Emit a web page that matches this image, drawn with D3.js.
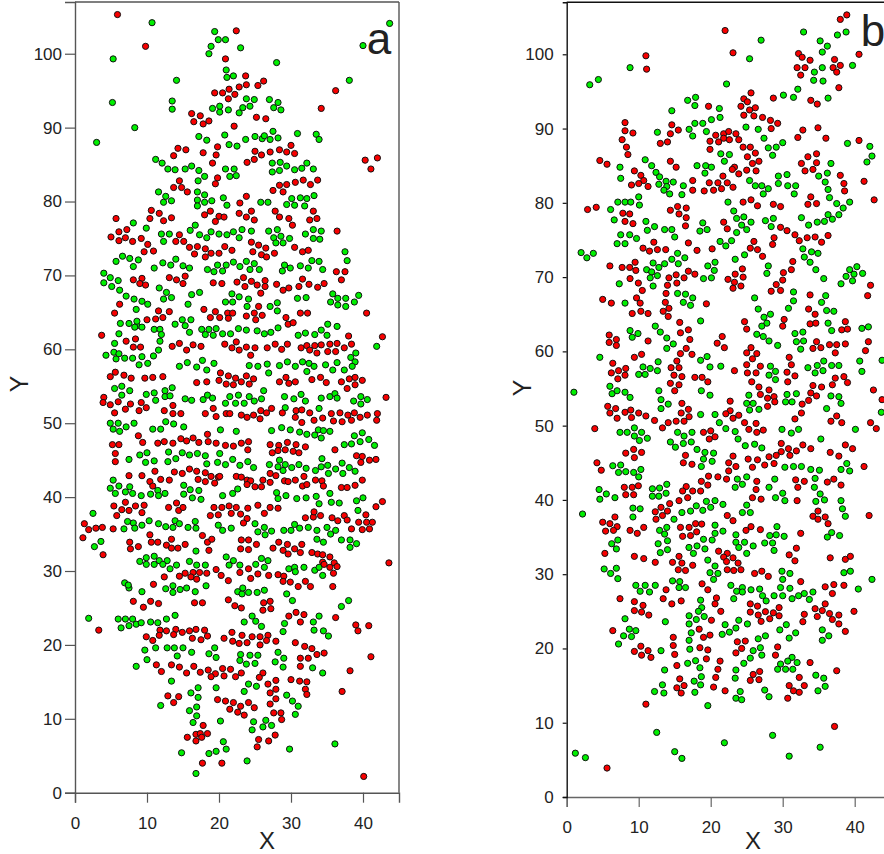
<!DOCTYPE html>
<html>
<head>
<meta charset="utf-8">
<script src="https://cdn.jsdelivr.net/npm/d3@7"></script>
<style>
html, body { margin: 0; padding: 0; background: #fff; overflow: hidden; }
svg { display: block; }
text { font-family: "Liberation Sans", Arial, sans-serif; fill: #222; }
</style>
</head>
<body>
<svg id="chart" width="884" height="854"></svg>
<script>
const xTicks = [0, 10, 20, 30, 40];
const yTicks = [0, 10, 20, 30, 40, 50, 60, 70, 80, 90, 100];

// panel a as [x, y]
const aRed = [
[5.9,105.3],[9.8,101],[22.4,103.1],[20.9,99.3],[23.7,97],[26.2,96.3],[23.8,95.8],[22.8,95.5],[25.4,95.7],[21.4,95.2],[19.4,94.7],[20.5,94.7],[22.2,94.5],[21.3,93.9],[36.2,95],[34.2,92.6],
[16.2,91.9],[17.4,91.6],[16.5,90.8],[17.8,90.5],[18.6,90.9],[25.2,91.4],[26.5,91.2],[22.1,90.2],[19.8,87.4],[14.3,87.2],[15.4,87],[13.7,86.2],[17.8,86.6],[19.6,86.3],[19.1,85.2],[25,86.8],[25.9,86.3],[24.9,85.7],[23.9,85.3],[27.1,86.7],[28.4,87],[29.4,86.7],[30,87.6],[30.5,86.5],
[40.3,85.6],[42,85.9],[41.1,84.4],[19.8,83.2],[19.5,82.4],[14.5,82.8],[13.7,81.9],[14.8,81.9],[15.6,81.3],[31.7,82.9],[33.7,82.9],[32.7,82.3],[30.6,82.6],[29.4,82.3],[28.4,82.2],[27.5,81.5],[28.9,81.3],[23.8,80.7],[22.9,79.8],
[5.7,77.7],[10.6,78.8],[11.7,78.4],[10.4,77.7],[12.3,77.4],[13.4,77.8],[18,78.2],[18.8,78.7],[20,78],[20.7,77.9],[19.5,77.3],[22.8,78.4],[23.8,77.9],[24.5,78.7],[24.9,77.5],[27.8,78.7],[28.4,77.9],[29.7,77.7],[30.2,76.8],[33.1,78.7],[32.6,77.5],[33.6,77.7],
[5,75.2],[6.1,75.9],[7.2,76.2],[6.1,74.7],[7,75.1],[8,74.6],[9.2,75],[10.1,74.2],[9.6,73.2],[10.9,73.3],[36.4,76],[14.5,75.5],[14,74.6],[15.1,74.6],[15.9,73.8],[17,73.9],[16.6,72.9],[18.1,73.6],[18.1,72.5],[18.9,73],[20,73],[20.8,73.9],[21.8,73.4],[24.5,74.5],[25.5,74.1],[26.5,73.7],[24.7,73.2],[25.9,72.8],[26.6,72.5],[27.7,73],[30.5,73.8],[31.6,73.2],[32.4,73.4],
[36.3,70.5],[37.5,70.5],[37,69.4],[8.1,69.4],[9.3,69.6],[9,68.9],[9.8,68.7],[13.1,69.7],[14.1,69.4],[15.3,69.9],[15,68.9],[19.2,69],[20.4,68.9],[22.5,69.1],[23.4,69.7],[24.5,69.2],[23.6,68.5],[25.3,68.7],[26.4,69.3],[26.4,68.5],[28,68.8],[28.9,68],[29.7,68.3],[31.1,68.5],[31.6,69.5],[32.5,68.8],[33.7,68.4],[34.6,68.9],[25.8,67.6],
[6.2,66.1],[5.5,64.9],[17.9,65.4],[11.6,65.2],[13.1,65.1],[10,64],[11.2,64.1],[12.2,64.3],[18.8,64.3],[19.5,65.1],[20.1,64.3],[21.2,64.9],[21.9,64.9],[21.3,64.2],[23.8,64.5],[24.9,64.9],[25.1,64],[26,64.6],[25.5,65.8],[29.3,64.3],[29.6,63.4],[30.3,63.6],[31.3,64.9],[32.3,64.9],[40.5,64.9],
[3.7,61.9],[8.4,61.4],[7.1,61.1],[8.1,60.3],[9.1,60.3],[13.5,60.4],[14.5,60.8],[15.5,59.9],[16.4,60.6],[17.5,60.4],[20.8,60.7],[22.4,61],[21.8,60.2],[22.8,59.9],[23.8,60.3],[25,60.2],[24.4,59.2],[26.7,60.2],[27.8,60.7],[28.7,60],[29.5,60.7],[31.4,60.2],[32.2,60.5],[32.6,59.9],[33.3,60.5],[34.2,60.6],[33.6,59.5],[35.1,59.7],[35.4,60.7],[36.4,60.8],[36.2,59.7],[37.4,60.2],[38.4,60.7],[38,61.8],[42.7,61.7],
[4.9,56.3],[5.6,56.9],[6.8,56.5],[7.8,56.1],[9.7,56.1],[10.8,56.2],[12.2,56.3],[16.9,55.5],[18.3,55.6],[20.2,56.8],[20,55.8],[21.3,56.4],[21,55.3],[22.3,56.1],[22,55.2],[23.1,55.6],[23.8,56.4],[24.2,55.3],[24.8,56],[28.4,55.6],[29.3,56.2],[29.7,55.4],[30.6,55.6],[32.9,55.9],[34.1,56.2],[34.9,55.5],[37,55.6],[38.1,56],[38.9,56.2],[38.9,55.2],[37.8,54.7],[39.9,55.8],[43.2,53.5],[4,53.5],
[3.9,52.8],[4.9,52.5],[6,52.9],[5.5,51.4],[7,51.9],[7.7,52.6],[9.2,52.8],[8.9,51.7],[9.9,52.1],[12.4,51.7],[13.6,52.4],[13.6,51.3],[14.7,51.3],[18.1,51.3],[19.2,52],[19.6,50.9],[21,51.3],[21.5,51.3],[23.1,51.1],[23.9,50.8],[24.8,51.1],[25.8,51.7],[25.7,50.6],[26.6,51.4],[27.3,52],[28.8,51.4],[30.7,51.7],[30.6,50.8],[31.5,51.8],[31.5,50.1],[32.6,51.4],[33.2,50.4],[34.4,50.7],[35.6,51.3],[35.9,50.3],[36.8,51.4],[37.1,50.2],[37.9,51.1],[38.4,50.4],[38.8,51.4],[39.6,50.8],[40.6,51.1],[41.9,50.4],[42,51.3],
[8.8,48.3],[9.4,47.4],[11.5,47.3],[12.4,47.5],[13.6,47.3],[14.7,47.9],[15.5,47.6],[16.4,48],[17.2,47.4],[18.5,47.5],[19.6,47.3],[18.4,48.5],[20.9,47],[22,46.9],[23.1,47.3],[24.1,47.5],[24,46.4],[27.1,47.1],[28.3,47],[29.5,47.4],[30.7,47.1],[27.4,46],[28.2,46.3],[29.2,46.4],[30.3,46.2],[31.1,46],[32,46.8],
[5.2,47.1],[6.1,47.1],[5.6,45.9],[5.6,44.8],[36.1,46.4],[39.1,45.6],[39.9,45.5],[39.7,44.7],[40.9,45],[41.8,45.1],
[7.5,42.9],[9.3,42.9],[10.4,42.1],[10.8,41.5],[11.1,43.5],[11.9,42.4],[13.1,42.3],[13.8,43.4],[14.9,43.2],[15.9,43.8],[16.9,43.5],[17.1,42.4],[18.1,43.3],[18.1,42.1],[19.4,41.9],[18.9,42.8],[19.9,42.7],[20.1,42.8],[22.4,42.8],[23.1,42.7],[23.9,42.3],[24.4,42.2],[23.9,41.7],[25,41.4],[26.1,42.3],[25.9,41.4],[27.1,43.2],[27.9,42.9],[27.1,42],[29.1,42.2],[29.6,42.1],[30.6,42.3],[31.6,41.5],[31.8,42.8],[32.2,41.7],[33.4,42.3],[34.3,42.2],[34.5,41.5],[37,41.3],[37.8,41.3],[38.9,41.6],[39.9,42.3],
[5.4,38.8],[7,39.3],[6.5,38.3],[5.8,37.5],[7.5,38.2],[8.4,38.8],[9.3,37.9],[9.6,38.9],[13,38.6],[14.1,39.2],[14.4,38.2],[15,38.6],[19.3,38.6],[20.4,38.6],[21.4,38.8],[22.4,38.6],[24,38.5],[18.8,37.5],[19.9,37.6],[21.7,37.8],[23,37.7],[23.9,37.1],[23.4,36.5],[25.4,38.9],[26.3,37.8],[27.1,38.6],[28.2,38.5],[32,37.2],[33.1,37.3],[33.2,38],[34.1,37.5],[35.7,37.2],[36.5,36.8],[37.4,37.5],[37.8,36.9],[38.4,35.7],[39.4,36.6],[39.9,35.6],[40.5,36.6],[40.4,37.6],[41.3,36.6],[40.9,35.7],[41.8,38.7],[42.7,39.4],
[1.3,36.4],[1.9,35.6],[2.9,35.8],[3.8,35.9],[5.3,35.7],[1.1,34.5],[10.4,34.9],[7.6,33.9],[7.7,33],[3.9,32.2],[8.8,33.3],[10.6,33.9],[11.5,33.9],[12.7,33.5],[13.4,34.3],[13.4,33.1],[14.3,33.1],[15.3,33.6],[17.7,34.8],[18.4,33.9],[19,34.3],[18.6,32.8],[23.1,34.2],[24.1,34.2],[23,33],[24.1,32.9],[25.2,33.6],[27.5,33.1],[28.3,33.9],[28.9,32.8],[29.5,33.6],[30.5,33],[31.5,33.6],[29.6,32.3],[31.3,32.5],[32.9,32.5],[33.7,32.3],[34.4,32.2],[34.4,31.2],[35.4,31.9],[34.6,30.9],[36,31.1],[35.4,30.5],[36.4,30.6],[35.9,29.7],[43.6,31.1],
[15.3,29.7],[14.5,29.3],[12.4,29.2],[16.4,29.8],[16.1,29.2],[17.3,29.8],[16.9,28.9],[18.3,29.7],[19.6,30.2],[20.3,29.4],[21.3,28.7],[22.9,29.8],[24.1,30.3],[24.4,29],[25.4,29.6],[26.9,29.4],[28.2,29.5],[29,29.3],[28.9,28.6],[29.9,28.5],[31,27.9],[32,28.6],[32.7,27.9],[35.8,27.9],[10.9,28.2],
[8.1,25.9],[9.5,25.1],[10.5,25.9],[11.6,25.6],[16.6,25.7],[17.7,25.7],[21.3,26.1],[22.2,25.3],[23.1,25],[26.2,25.7],[27.1,25.9],[26.1,24.7],[27.2,24.9],
[29.7,23.9],[30.7,24.4],[31.3,23.1],[31.8,24.1],[36.2,23.7],[39,22.7],[40.8,22.6],[39.3,21.9],[14,22.1],[3.3,22],[11.8,22],[14.9,21.7],[15.9,21.9],[16.8,22.1],[18,22],[12.7,21.9],[11.7,21.3],[9.9,21.1],[10.8,20.6],[13.7,21.4],[16.3,20.9],[17.5,20.7],[18.4,21.2],[20.7,20.9],[21.8,21.7],[23.2,21.3],[21.9,20.5],[22.8,20.2],[23.9,20.3],[24.6,21.1],[25.7,21.1],[26.8,21.3],[26.6,20.6],[27.9,20.5],[25.7,20],
[30.6,20.3],[31.9,19.8],[32.9,19.5],[33.6,18.7],[34.6,18.9],[41.1,18.4],[31.3,18.2],[32.4,18.2],[11.3,17.3],[13.4,17.3],[14.5,17],[16.5,17.1],[31.3,17.1],[15.5,16.2],[12,16.4],[17.4,16.3],[18.5,16.6],[19.5,16.1],[18.9,15.7],[20.5,16.8],[20.7,15.8],[21.6,16.7],[22.3,15.7],[23.1,16.2],[26.1,16.2],[25.6,15.6],[38.2,16.5],
[27.9,15.2],[30,15.3],[31.2,15.1],[32.2,15],[26.8,14.7],[27.9,14],[32,14],[27.1,13.5],[32.2,13.3],[37.1,13.7],[12.9,13.1],[14.4,13],[27.9,12.7],[13.7,12.2],[19.8,12.6],[20.9,12.4],[22,12.2],[24.1,12.2],[23,11.7],[27.1,12],[24.9,11.5],[21.5,11.3],[22.6,10.9],[23.5,10.5],[27.6,10.8],[28.6,10.8],[28.7,9.9],
[17.8,9.1],[15.6,7.5],[16.8,7.9],[17.4,8],[17.6,7.5],[18.4,8],[16.8,7],[27.8,7.8],[25.5,7.2],[26.9,7],[25.3,6.2],[17.7,4],[20.4,4],[40.1,2.2]
];
const aGreen = [
[10.7,104.2],[43.7,104.1],[19.4,103],[19.9,101.9],[20.9,101.9],[18.9,101],[23,100.8],[18.6,100],[40,101.1],[5.3,99.3],[28,98.8],[21,97.8],[21.1,96.8],[22,97],[14.1,96.4],[38.1,96.4],
[5.2,93.4],[13.5,93.6],[13.5,92.5],[19.1,92.6],[20.1,92.1],[20.1,92.9],[21.3,92.4],[22.8,92],[23.3,92.7],[23.8,93.9],[24.3,92.9],[24.9,93.8],[27,93.8],[28.2,93.4],[27.6,92.7],[28.6,92.4],
[8.3,90],[3,88],[17.2,88.8],[18.3,88.3],[20.8,89],[21.4,87.7],[22.5,87.5],[23.7,88.4],[25,88.8],[26,88.5],[26.3,88.9],[27.1,88.4],[27.5,89.5],[28.2,88.6],[30.9,89.2],[33.5,89.1],[33.9,88.4],
[11.2,85.7],[12.1,85.2],[12.9,84.4],[13.9,84.3],[15.3,84.4],[16.2,84.8],[17.2,84.2],[18,83.4],[17.1,82.8],[20.9,84.4],[21.5,83.4],[22.1,84.4],[22.4,83.5],[27.4,85.2],[28.5,85.3],[29.4,84.8],[30.5,84.3],[31.5,84.5],[32.2,85.2],[33.1,84.4],[27.4,84],[28.4,84.2],
[11.6,81.3],[12.6,80.7],[12.3,79.9],[13.4,80.1],[17,81.3],[18,80.9],[17,80.2],[18,79.9],[19,80.1],[20.6,80.5],[21.1,79.5],[17,79.4],[25.8,79.9],[26.8,79.9],[29.4,79.6],[30.1,80.4],[30.5,79.5],[31.3,80.5],[32.2,80.4],[33.2,80.8],[31.9,79.4],
[8.1,77.1],[9.9,76.4],[16.7,76.8],[16,76.1],[17.3,75.5],[18.3,75.1],[18.9,75.9],[20,75.6],[21.1,75.5],[22,75.9],[22.8,75.1],[23.2,76.2],[24.5,76],[26.9,76],[28.1,76.2],[27.6,75.1],[28.6,75.3],[29.8,75],[27.9,74.4],[28.9,74.4],[12,75.6],[13.1,75.6],[12.3,74.6],[32,75.6],[33.1,76.2],[34.2,76],[33.1,75],[34,74.9],
[5.7,71.9],[6.6,72.6],[7.6,72.3],[8.1,71.2],[8.8,72.1],[11,71],[12.2,71.7],[13.3,71.4],[14,72.2],[15,71.3],[15.9,71],[18.4,70.8],[19.3,70.5],[19.8,71.4],[20.5,70.6],[21,71.4],[22,71.8],[22.9,71.2],[23.8,71.9],[24.3,70.8],[24.9,71.6],[25.6,70.8],[29.1,71.4],[28.8,70.6],[29.9,71],[31.3,71.3],[32.4,71],[32.9,72],[33.9,71.9],[34.4,70.8],[37.5,73.2],[37.8,72],
[4,70.3],[4.9,69.7],[6,69.3],[4,69],[5.1,68.5],[6.2,68],[7.1,67.2],[8.2,66.8],[9.3,66.5],[10.1,66.1],[8.5,65.4],[11.7,68.3],[12.7,67.7],[12.3,66.8],[13.4,67],[16.2,67.4],[17.3,67.7],[15.7,66.1],
[21.8,67.5],[20.9,66.4],[21.9,66.4],[22.8,67.1],[24.1,66.8],[23.9,65.8],[27.1,65.8],[28.1,66.3],[28.1,65.2],[30.9,66.9],[32.1,67],
[35.8,67.5],[36.5,66.9],[36.5,66],[35.5,66.4],[37.6,66.9],[37.6,65.8],[38.8,66.4],[39.4,67.3],
[6.3,63.5],[7.5,63.5],[8.6,63.2],[8.3,63],[9.3,63],[8.6,63.8],[6.1,62.1],[5.5,60.8],[11,62.7],[11.8,62.7],[12,62],[11.8,61.1],[13.9,63.4],[14.9,64],[15.3,63.2],[16.1,64],[15.9,62.3],[17.6,62.7],[18.1,62],[18.6,62.7],[19.2,61.9],[19.6,62.8],[20.5,62.1],[21.6,62.1],[22.7,62.8],[23.8,62.6],[25.3,62.5],[26.3,62.1],[27.2,62.3],[28.2,62.9],[31,61.9],[32,62.2],[33.3,62],[34.2,62.6],[35,61.9],[35.1,63.4],[36.4,63.1],
[11.6,59.9],[5.4,59.6],[4.3,59.2],[5.7,58.7],[6.1,59.4],[6.9,58.8],[8,58.8],[8.9,57.9],[9.3,59],[10.1,58.1],[10.9,59.1],[39,59.5],[41.9,60.4],[38.9,58.3],[38.5,57.7],[38.3,58.9],
[14.5,57.7],[15.6,58.2],[16.9,57.6],[17.7,58.5],[18.3,57.2],[19.3,58.1],[24.2,57.8],[25.4,57.7],[26.7,58],[26.9,56.8],[28.4,57.8],[29.5,58.3],[30.6,57.7],[31.6,58.3],[32.2,57],[32.5,58.1],[33.2,57.7],[34.8,57.9],[35.8,57.2],[36.4,58.2],[37.4,57.2],
[5.5,54.7],[6.5,55],[6.5,53.8],[7.6,54.4],[9.9,53.9],[11,54.1],[12.5,54.4],[13.5,54.8],[12.5,53.6],[13.2,53.7],[11.2,53.1],[15.3,53.3],[16.2,53.1],[17.8,53.2],[18.4,53.8],[19.1,53.4],[20.9,52.7],[21.5,53.6],[22.3,52.7],[22.7,53.8],[23.5,52.7],[24.2,53.6],[24.9,53],[25.9,53.3],[26.2,54.4],[29.1,53.6],[29.2,52.1],[30.4,53.3],[31.4,53.9],[32,53],[33.9,52],[34.2,53.4],[35.4,53.6],[36.1,54],[36.4,53.4],[38.7,53],[39.7,52.6],[39.7,53.6],[40.6,53.2],
[4.9,50],[5.3,49.2],[6,50],[6.2,48.9],[7.1,49.5],[8.2,50],[10.8,49.2],[11.9,49.2],[12.6,50.2],[13.7,49.9],[15.1,49.5],[20.2,49.1],[22.4,48.9],[27.3,49],[28.7,49.4],[29.9,49.1],[31.2,48.8],[32.2,48.5],[33.3,48.4],[33.8,49.1],[34.5,49],[34.2,48],[35.4,48.9],[38.8,48.3],[39.9,48.7],[39.6,47.5],[40.8,47.8],[41.6,47],[37.4,47.1],[38.4,47.2],
[9,45.7],[10,46],[7.5,45.1],[9.8,44.7],[11,44.9],[13,46.1],[12.9,44.8],[14,45.2],[14.9,46],[15.9,45.7],[17,45.9],[18.1,45.6],[18.3,44.5],[19.8,44.7],[20.1,45.9],[20.9,44.4],[21.9,45.1],[22.9,44.3],[24,44.8],[24.8,44],[27,44.4],[28.2,44.1],[28.4,45],[29.2,44.4],[28.9,43.6],[30.1,44],[31.1,44.4],[32.1,43.9],[33.4,43.6],[34.2,44.1],[34.3,45.2],[35.1,44.3],[35.2,43.2],[36.2,43.8],[37.1,44.6],[37.2,43.2],[38.1,44],[38.9,43.5],
[5.3,42.3],[4.9,41.2],[6.1,41.5],[7.6,41.4],[7,40.7],[8,40.5],[5.6,40.5],[9.2,40.2],[10.5,40.4],[11.5,40.9],[11.6,40.2],[12.5,40.5],[15.1,41.6],[15.1,40.4],[16,41],[16.3,39.9],[17.2,40.9],[17.5,39.7],[20.5,40.2],[21.9,40.5],[22.6,41.1],[28,40.6],[28.2,39.8],[29.3,40.2],[30.8,39.8],[32.1,39.9],[33.5,40.1],[33.9,39.1],[35.4,40.5],[35.6,39.3],[36.7,39.2],[39.1,39.5],[40,39.9],[39.3,38.2],
[2.5,37.8],[7.3,36.7],[8.1,36.5],[6.8,35.7],[8.3,35.8],[9.3,36.2],[10.3,36.8],[11.6,36.4],[12.6,36],[13.6,35.9],[13.9,36.8],[14.5,36.4],[15.7,35.9],[16.7,36.7],[16.8,35.8],[19.9,36.2],[20.5,35.5],[21.7,35.8],[25,36.4],[25.4,35.3],[26.3,35.9],[26.4,34.9],[27.3,35.4],[29,35.5],[30,35.5],[30.5,36.3],[31.2,35.8],[32.4,35.9],[33.6,35.5],[35,35.9],[35.5,35],[36.2,35.5],[33.6,34.3],[34.5,33.9],[37,34.2],[38.2,34.2],[39.1,33.7],[38.2,33.2],[2.7,33.3],[3.6,34],
[16.8,32.7],[9,31.3],[9.9,31.8],[11,32],[11.7,31.4],[12.8,31.4],[9.9,30.9],[11,30.9],[12.2,30.9],[13.2,30.3],[14.1,30.8],[15.9,31.3],[16.9,30.8],[18.1,30.8],[21,31.9],[22,31.4],[21.4,30.8],[22.9,30.8],[25.1,30.9],[25.9,31.7],[26.8,31.4],[26.3,30.5],[29.7,30.3],[30.5,30.5],[30.6,29.9],[31.8,30.5],[33.3,30.1],[33.9,30.5],[34.4,29.4],
[6.9,28.4],[7.5,27.7],[7.4,28.1],[9.3,27.2],[12.6,27.6],[13.6,27.1],[13.6,28],[14.6,27.5],[15.5,27.7],[16.7,27.2],[18.2,28],[22.6,27.2],[23.2,26.9],[23.3,27.7],[24.1,27.1],[25.3,27.1],[26.3,27.4],[29.4,26.9],[30.2,26],[37,25.2],[38,26],
[1.9,23.6],[6,23.5],[7,23.5],[8,23.5],[6.4,22.3],[7.5,22.6],[8.5,22.8],[9.2,23],[10.5,23.1],[11.5,23],[12.7,23.5],[13.9,24],[23.5,23.1],[24.6,23.9],[25.1,23.2],[25.9,22.5],[29.1,22.9],[33.1,23.1],[33.9,23.9],[33.2,22],[34.5,21.9],[35.2,21.2],[28.9,21.8],
[9.7,19.3],[11.2,19.6],[12.8,19.6],[13.8,19.6],[14.2,18.5],[15,19.6],[16.2,19],[18.6,18.8],[19.4,19.6],[19.6,18.3],[23,18.7],[24.3,18.6],[25.4,18.6],[28.2,19],[29,18.2],[10,18],[22.9,17.9],[23.8,17.4],[25,17.5],[27.8,17.7],[8.5,17.1],[28.9,17],[33,16.9],[34.4,16.2],
[13.4,15.1],[24.1,14.7],[25.2,14.4],[19.6,14.2],[17.1,14.2],[16.1,13.5],[23.5,13.7],[17.1,12.9],[29.4,13.2],[30.2,12.4],[31,11.7],[11.9,11.8],[16.9,11.6],[15.9,11.1],[16.9,10.4],[30.6,10.6],[16.4,9.5],[20.2,9.7],[24.8,9.6],[26.5,9.8],[26.1,8.9],[27.3,9.1],[24.6,8.5],[20.6,6.9],[36.1,6.6],[21,5.9],[19.6,5.6],[29.8,5.9],[14.8,5.4],[18.6,5.3],[23.9,4.3],[16.8,2.6]
];

// panel b
const bRed = [
[38.9,105.3],[38,104.7],[22,103.2],[23.1,100.2],[32.2,100.1],[32.7,99.6],[33.8,99.2],[37.2,99.3],[38,98.5],[37,98.2],[32,98.2],[33.1,98.2],[37.5,97.6],[32.5,97.2],[40.6,100],[11,99.8],[11.1,98],[37.8,95.5],[25.6,94.8],[28.7,94.1],[24.6,94],[25.1,93.6],[33.9,93.8],[34.8,93.3],[24.2,93],[25.4,92.5],[26.2,92.8],[19.7,93],[24.6,91.8],[26,91.7],[27.2,91.5],[28.3,91.1],[29.3,90.7],[28.4,90],
[8.1,90.8],[8.1,89.7],[9.2,89.4],[14.6,90.5],[14.4,89.3],[15.5,89.8],[7.7,88.5],[8.3,87.5],[13,88],[14,88.2],[20.7,89.1],[21.8,89.3],[22.5,89.6],[23.5,89.3],[23.9,88.5],[19.9,88.3],[21.1,88.2],[21.8,88.7],[22.6,88.5],[32.1,88.8],[32.8,89.8],[34.9,90.1],[36,88.7],[40.6,88.4],[19.9,87.2],[24.5,87.5],[25.5,87.5],[26.2,86.7],[25.1,86.2],[26.7,85.6],[25.8,85.3],[8.5,86.5],[33.5,86.2],[34.7,86.6],[34.7,85.4],[32.6,85.3],[4.6,85.7],[5.6,85.2],[14.4,85.6],[15.2,84.8],[23.3,84.8],[23,84.5],[25,84.4],[26.3,84.3],[23.9,83.9],[9.4,84.3],[10.3,83.7],[33.1,84.3],[34.2,84.5],[38,83.7],
[10.7,83],[9,82.4],[10,82.6],[11.3,82.2],[17.5,83],[19.8,82.7],[21,82.7],[21.7,83.6],[22.3,82.7],[23.1,82.1],[17.5,81.7],[19.1,81.6],[20.4,81.7],[21.5,81.9],[38.5,82.6],[38.6,81.6],[41.3,82.9],[33.9,80.8],[42.7,80.4],[25.6,80.4],[24.5,80.1],[28.7,79.8],[29.7,79.5],[33.5,79.8],[34.7,79.9],[26.5,79.6],
[2.9,79.1],[4.1,79.4],[7.8,78.6],[8.75,78.5],[8.1,77.5],[9.2,77.2],[14.4,79],[15.4,79.5],[15.6,78.5],[16.6,79.3],[16.6,78],[16.5,76.9],[21.8,77.4],[22.3,76.5],[29.7,76.7],[30.6,76.25],[31.7,75.7],[32.3,74.9],[33.4,75.3],[34.5,75.4],[35.4,74.7],[36.3,75.6],[28.8,75.3],[28.6,74.4],[16.9,74.6],[12.1,74.7],[10.6,73.9],[11.5,73.5],[12.6,73.7],[13.75,73.7],[18.1,73.6],[20.2,73.8],[25.5,73.9],[26,74.8],[26.5,73.7],[27.2,72.8],[31.4,72.1],[31.2,71],
[9.5,72],[6,71.5],[7.7,71.3],[8.75,71.3],[9.6,70.9],[16.9,70.8],[17.8,70.4],[15.2,70.3],[14.2,69.9],[16.3,69.9],[15.3,69.2],[8.8,69.8],[22.4,69.7],[23.4,70.4],[24.4,71.1],[24.5,70],[23.3,69.3],[23.1,68.5],[24.2,68.8],[30.1,70.6],[30,69.6],[29.1,69],[9.95,69.2],[10.5,68.2],[14,68.9],[28.4,68.1],[29.7,68.2],[13.8,67.8],[42.2,68.9],[41.8,67.5],[9.7,67.2],[5,67],[6.2,66.5],[10.2,66.5],[13.7,66.6],[19.4,66.4],[14.2,65.8],[33.8,67.6],[13.4,65.4],[14.1,64.7],[33.6,65.7],[34.5,65],[9.1,65.1],[10.3,65.4],[11.3,65.1],
[24.7,64],[30.2,64.3],[30,63.4],[25,63],[33.8,63.7],[34.6,63.8],[38.7,64],[38.2,62.9],[39,63],[15.7,63.9],[16.9,62.9],[15.8,62.5],[5.9,62.2],[6.9,61.6],[5.9,61.2],[6.9,60.8],[11.3,61.4],[17.1,61.6],[21.6,62],[20.9,61.1],[21.9,60.5],[25.6,60.5],[25,59.8],[26.4,59.7],[37.5,60.9],[36.5,60.9],[35.3,60.5],[34.2,60.4],[34.7,61.3],[38.7,61],[37.3,59.8],[41.9,61.3],[41.5,60.1],[16.6,60.4],[15.8,59.7],[17.4,59.6],[15.3,58.7],[9.4,59.2],[10.4,59.6],[6.4,58.4],[25.8,59],[25,58.2],[30.9,59.2],[31.2,58.2],[14.5,57.8],[15.6,57.8],[26.9,58],
[6.2,57.1],[8.2,57.7],[7.2,57.4],[8.1,56.8],[7.1,56.3],[14.9,56.8],[16,56.6],[23.3,57.4],[25.1,57.1],[26.3,57.1],[30.6,57.2],[31.7,56.7],[17.8,56.5],[18.8,56.5],[19.6,55.9],[25.7,55.9],[30.7,55.9],[14.4,55.7],[15.6,55.5],[37.3,56.4],[38.5,56.6],[36.9,55.5],[39,55.8],[26.7,55.2],[34.2,55.4],[35.4,55.2],[15,54.7],[26.9,54.2],[28.1,54.8],[33.9,54.4],[42.6,54.8],[27.9,53.7],[28.8,53.9],[34.7,54],[22.7,53.3],[43.8,53.5],[28.9,53.2],[33.6,53.4],[32.7,52.9],[16,53],[27.9,52.6],[5.7,52.6],[6.8,52.3],
[6,51.7],[7,51],[8.1,51.8],[8.9,52.1],[9,51.1],[10,51.7],[11,51.3],[16.9,52.2],[15.9,51.7],[17,51.2],[22.7,52],[22.1,51.6],[23.1,51],[23.9,51.4],[32.6,51.7],[31.7,50.9],[37.5,51.3],[36.7,50.6],[38.2,50.4],[42.2,50.4],[43,49.6],[12.2,50.7],[14.1,50.4],[15.2,50.6],[16.3,50.6],[13.3,49.7],[3.9,49.6],[24.7,50.4],[26.3,50.3],[25.3,49.5],[26.4,49.1],[27.3,49.4],[19,49.1],[20,49.3],[20.6,48.5],[19.8,48.2],
[29.8,47.6],[30.8,46.9],[32.8,47.4],[31.9,46.6],[33.9,46.9],[38.7,47.4],[39.7,46.9],[29.8,46.5],[29.1,46],[28.1,45.8],[31,46],[9.3,46.8],[8.2,46.3],[10.4,46.4],[9.4,45.7],[16.5,46],[23.1,45.9],[36.6,46.4],[37.8,45.9],[25.2,45.5],[26.5,45.4],[28.8,44.9],[27.5,44.7],[4.2,45],[4.8,44],[16.2,45],[17.4,44.8],[22.5,45],[23.5,44.5],[25.8,44.4],[22.5,43.9],[41.3,44.5],
[19.7,43.2],[21,43.1],[22.2,42.8],[18.7,42.5],[26.4,42.5],[31.8,42.7],[33,42.5],[36.2,42.4],[37.1,42.8],[38.1,42],[19.6,42],[32.1,41.7],[26.3,41.4],[8,41.7],[9.1,41.7],[9.95,41.9],[16.6,41.8],[16.1,41.2],[17.5,41.2],[18.6,41.2],[8.2,40.7],[9.3,40.7],[16.8,40.3],[15.6,39.9],[25.8,40.3],[27,40.1],[32,39.9],[14.3,39.5],[13.1,39],[12.3,38.4],[14,38.5],[13.3,37.9],[12.4,37.4],
[15.8,36.3],[17,36.3],[17.9,36.8],[18.75,36.75],[18.05,35.7],[17.2,35.2],[16.1,35.1],[22.3,37.9],[23.1,37.2],[24.9,35.9],[25.6,36.4],[26.9,36],[32.5,35.5],[31.9,33.5],[30.9,32.6],[31.7,31.8],[36.6,32.2],[38.7,32],[39.4,32.4],[42,37.9],[34.2,37.8],[34.9,38.5],[34.9,37.4],[35.9,37.7],[36.3,36.8],
[5,37],[6,36.8],[6.7,37.7],[7,36.4],[5.4,35.8],[6.5,35.9],[8.8,35.9],[9.8,35.5],[10.7,36.3],[5.3,32.8],[9.4,32.4],[10.7,32.1],[12.3,31.6],[15.6,32.4],[14.7,31.6],[16,31.5],[17.5,31.2],[15.5,30.6],[16.5,30.5],
[21.1,33.1],[22.3,32.8],[21.8,32.3],[23.1,32.2],[22.2,31.7],[23.8,31.5],[22.3,30.6],[23.2,30.5],[24.2,30.6],[26.1,30.1],[27.1,30.4],[28,29.7],[32.5,29],[35.9,28.3],[37.1,28.6],[36.9,27.4],[38.5,28.5],[18.8,28.7],[13.8,27.9],[19.6,27.9],[7.4,26.7],[13.4,26.7],[9.4,26.3],[10.6,25.8],[14.6,26],[15.9,26.4],[20.8,26.8],[20.6,26],[25.5,26],[26.5,25.7],[35.9,26],[29.5,25.5],
[9.4,25.1],[10.4,24.9],[11.4,24.5],[21.4,25],[25.5,24.9],[26.6,24.5],[27,23.65],[27.6,24.95],[28.7,24.8],[28.2,24],[29.5,24.4],[20.1,23.8],[34.5,25.35],[35.5,25.1],[34.8,24.3],[36.5,24.7],[36.9,23.9],[37.8,24.5],[37.8,23.3],[38.7,22.3],[39.9,25],[33,24.6],[32.8,23.6],[6.4,22.4],[18.4,22.6],[19.9,21.8],[19,21.5],[14.8,21.5],[23.7,20.9],[24.8,21],[14.8,20.4],[10.3,20.3],[24.3,20],[18.5,20.1],[19.6,19.8],[29.3,20.2],[9.4,19.6],[11.3,19.7],[23.5,19.4],[15,19.2],[10.4,19.1],[11.7,18.8],[29,19.1],
[19.4,18.6],[21.3,18.3],[33.8,18.1],[15.3,17.7],[37.5,17],[21,17.2],[26.8,16.9],[25.9,16.5],[20.7,16.1],[32.3,16.1],[15.7,15.9],[25.5,15.7],[26.7,15.8],[20.4,14.8],[16.3,15],[15.3,14.7],[30.9,15],[33,15],[22,14.3],[15.9,14],[31.5,14.3],[32.3,14.1],[30.7,13.3],[11,12.5],[37.2,9.5],[5.6,3.9]
];
const bGreen = [
[32.9,103],[27,101.9],[35.2,101.8],[36.2,101.1],[35.5,100.3],[25.4,99.4],[38.8,103],[37.6,102.6],[39.7,98.5],[8.8,98.2],[34.4,97.6],[35.5,98.2],[34.3,96.5],[35.6,96.4],[3.2,95.9],[4.4,96.6],[22.2,96],[32.1,95.3],[30.1,94.5],[31.5,94.2],[36.3,94.1],[16.8,93.8],[17.9,94.2],[17.8,93.1],[21.2,92.7],[14.6,92.4],[21.3,91.5],[20.1,91.2],[17,89.9],[17.8,90.7],[18.9,90.7],[24.9,90.2],[26.6,89.9],[12.6,89.5],[17.5,89],[19.4,89.6],[27.4,88.7],[28,87.4],[29.1,87.5],[30,88.1],[39,88],[42.1,87.6],[42.4,86.3],[41.7,85.5],[21.4,86.6],[22.6,86.5],[21.9,85.6],[28.6,86.4],
[10.9,85.8],[11.8,85],[12.4,84.1],[12.9,83.5],[18.1,85],[19.3,85],[20.1,84.8],[19.2,84],[29.4,83.6],[30.6,83.8],[7.4,84.8],[7.5,83.3],[35,83.6],[36.2,84],[36.7,85.3],[25.4,83],[29.4,82.6],[30.7,82.3],[31.8,82.3],[31.6,81.2],[27.3,81.2],[26.2,82.3],[27.1,82.3],[28,81.9],[12.8,82.5],[13.8,82.9],[14.8,82.8],[13.9,82.2],[13.5,81.7],[14.3,81.2],[16.2,82.3],[16,81.1],[35.9,82.8],[36.3,81.8],[36.5,80.7],[10,80.8],[10.1,79.7],[7.1,80.1],[8.1,80.1],[8.9,80.1],[22.4,80.1],[37.5,79.9],[39.3,80.1],[38.4,79.3],
[6.1,79.1],[6.6,77.7],[11,77.5],[12.2,76.8],[11.2,76.3],[13.6,76.4],[14.6,76.4],[15,75.4],[18.9,77.3],[18.5,76.2],[19.5,76.4],[23.2,78.9],[23.6,77.9],[24.6,78.1],[25.6,77.4],[24.3,77],[25,76.4],[23.6,76],[27.6,77.6],[28.4,76.8],[28.7,77.9],[32.6,78],[33.6,77],[34.8,77.4],[35.8,77.5],[36.3,78.4],[36.9,77.8],[37.8,78.4],
[7.5,75.7],[8.75,75.7],[9.7,75.2],[7,74.5],[8.1,74.5],[21.3,74.8],[22.1,74.2],[22.9,74.9],[32.8,73.8],[34,73.4],[34.9,73.2],[33,72.7],[33.8,72],[34.6,71],[24.7,73],[2,73.3],[2.8,72.6],[3.7,73.2],[15.4,73.2],[16.4,72.6],[14.6,72.4],[15.5,71.8],[13.6,71.8],[12,71.9],[12.8,71.3],[11.1,71],[11.8,70.7],[12.6,70.2],[11.6,69.9],[12,68.8],[23.4,72.4],[20.6,72],[19.6,71.5],[20.5,70.9],[19,69.8],[20.1,69.9],[28,71.5],[27.8,70.5],[7.3,69.1],[35.7,69.8],[39.3,71],[40.3,71.4],[39.9,70.4],[41.1,70.5],[38.8,70.1],[39.7,69.5],[38.1,69.1],
[26.1,67.2],[31.5,68],[31.5,66.8],[35.97,67.5],[35.4,66.6],[15.4,67.8],[16.5,67.7],[17.5,67.2],[16.2,66.6],[17.2,66.2],[8.1,66.5],[26.6,65.7],[30.8,65.8],[36.1,65.5],[37.1,65.4],[28.3,65],[27.4,64.6],[27.8,63.8],[27.1,63.4],[18.6,64.1],[12.3,63.4],[13,62.6],[8.8,62.8],[9.9,62.4],[9.1,61.9],[13.9,61.8],[14.8,61],[13.9,60.4],[26.4,62.3],[27.3,62],[28.1,61.4],[31.7,62.4],[32.8,62.6],[31.9,61.3],[32.9,61.4],[32.5,60.3],[29.3,60.8],[36.3,63.8],[36.8,62.8],[41,63.1],[41.9,63.3],
[4.6,59.2],[19.5,59.3],[18.6,58.8],[19.9,57.9],[21.4,58],[12.7,58.6],[10.6,57.9],[11.6,57.7],[12.6,57.4],[10,56.9],[10.9,56.9],[28.3,58],[29,57.3],[28.1,56.8],[29,56.2],[33.5,57.8],[34.8,58.1],[34.5,57.1],[35.6,57.4],[35.7,58.7],[36.8,58.1],[37.8,58.1],[40.7,58.7],[41,57.3],[43.8,58.8],
[1,54.5],[6,55.3],[6.3,54.3],[7,54.7],[8.1,54.5],[8.8,53.8],[12.8,54.7],[18.7,54.7],[19.9,54.1],[25.3,54.1],[30.6,54.2],[31.9,54.3],[36.7,54],[37.8,53.9],[13.1,53.5],[14.1,52.9],[13.1,52.3],[25,53],[25.9,53],[25.4,52.1],[26.7,52.2],[30.4,53.2],[31.3,53.2],[38.1,53],[36.1,52.3],
[18.6,51.5],[20.6,51.5],[21.2,50.4],[22.1,49.6],[23.4,49.2],[23.8,48.2],[24.8,47.3],[26.1,47.5],[27.1,47],[29.9,49.5],[31.2,49],[32.2,49.5],[40.1,49.5],[35.3,48.2],[43.7,51.8],[7.4,49.1],[8.4,49.1],[9.4,49.7],[9.4,48.6],[10.4,49.1],[10.1,48],[11.2,48.3],[15.4,49.1],[16.3,48.6],[17.4,49.1],[14.4,47.8],[16.2,47.6],[17.3,47.8],[15.1,47.1],[18.1,46.8],[19.2,46.4],[20.4,46.3],[19,45.5],[20.2,45.2],[18.7,44.5],
[6.4,44.6],[7.5,44.7],[7.2,43.7],[8.2,43.8],[9.3,43.7],[10,43.1],[10.3,44.1],[30.3,44.4],[31.5,44.5],[32.6,44.5],[33.9,44.1],[35.1,44],[38.9,44.9],[38.1,44.1],[39.3,43.9],[25,43.1],[23.7,42.8],[24.4,42.1],[23.4,41.7],[28.9,42.8],[28.1,41.7],[34.5,42.9],[34.4,41.7],[35.2,40.8],[35.8,40],[34.6,39.8],[38.1,39.9],[38.3,38.8],[38.7,37.8],
[4.5,41.4],[5.5,40.8],[4.6,40.1],[6.7,40.3],[11.9,41.5],[12.9,41.6],[13.9,42.1],[13.8,40.9],[11.9,40.5],[12.8,40.5],[30,40.9],[29,40.3],[30.3,39.9],[19.4,39.8],[20.6,39.9],[18,39.2],[18.9,38.6],[20,39],[21.7,39.4],[25,39.3],[24.4,38.3],[25.5,38.3],[16,38.3],[17.2,38.5],[9.2,38.9],[10.2,38.8],[9.2,37.7],[14.9,37.4],[2.2,38.1],
[20.6,36.6],[20.6,35.5],[21.7,35.8],[20.2,34.6],[19,34.7],[13.9,36.3],[12.9,35.9],[13.6,35.4],[14,34.5],[12.7,34.1],[14,33.3],[13,32.9],[16.98,33.6],[18.1,33.8],[17.6,32.8],[19.2,33.4],[23.5,35.3],[23.5,34.3],[23.9,33.6],[24.7,34.3],[25.9,33.8],[25,32.8],[29.2,36.4],[28.2,35.2],[29.1,35.3],[30.2,35.1],[27.5,34.2],[28.6,34.2],[28.8,33.2],[7.1,34.6],[6.25,34.1],[6.9,33.4],[36.2,35],[36.8,35.6],[37.9,35.2],
[19.6,31.9],[20.6,31.1],[19.9,30.2],[21,30.1],[20.4,29.3],[29.9,30.4],[31,30.1],[30,29.3],[38.5,30.2],[39.4,30.4],[42.4,29.3],[5.2,30.7],[6.1,30.1],[6.9,30.8],[7.1,29.4],[14.7,29.1],[15.7,29],[15.6,28.2],[16.5,28.2],[9.6,28.5],[10.9,28.5],[12.3,28.5],[10.2,27.7],[11.5,27.6],[22.8,28.5],[24.4,28.2],[23.6,27.7],[24.4,27.6],[25.6,27.9],[26.8,28],[27.2,27.1],[27.7,26.4],[28.8,27.1],[29.7,28.2],[31,28.1],[30,27.1],[31.3,26.7],[32.2,27.1],[33,27.4],[34.2,27.6],[33.7,26.6],[40.5,28],[23.2,26.7],[18.6,26.5],[18.75,25.5],
[8.1,24],[17,24.4],[18.3,25],[18,23.9],[19.1,24.3],[13.7,23.6],[17,23.3],[22,23.2],[23.9,23.8],[23.5,22.75],[25.1,23.3],[30.5,23.2],[8.7,22.6],[9.6,22.4],[17.3,22.1],[22.6,22.2],[21.6,21.9],[29.6,22.5],[31.8,22.1],[35.5,22.5],[36.4,21.7],[7.9,21.7],[9,21.6],[17,21.1],[26.6,21.3],[27.6,21.7],[30.9,21.4],[35.5,21.1],[7.2,20.6],
[13.1,19.7],[17.1,19.9],[25.9,19.7],[26.9,20.1],[31.3,18.8],[27.1,19.1],[25.5,18.7],[30.7,18.3],[32,18.1],[16.8,18],[17.9,18.35],[24.6,18],[29.7,17.9],[18.5,17.4],[13.6,17.1],[23.5,17.1],[29.3,17.2],[30.4,17.2],[31.4,17.2],[34.6,16.4],[18.7,16.2],[23.4,16],[35.7,16],[17.7,15.6],[13.3,15.1],[18.6,15.1],[35.9,14.9],[12.2,14.2],[17.8,14.1],[13.5,14],[24.1,14.2],[27.5,14.4],[34.9,14.3],[28.1,13.5],[23.5,13.3],[24.3,13.1],[19.6,12.3],
[12.5,8.7],[28.6,8.3],[21.9,7.3],[35.2,6.7],[15,6.1],[1.2,5.9],[2.6,5.3],[16,5.2],[30.9,5.5]
];

const svg = d3.select('#chart');

function panel(cfg) {
  const x = d3.scaleLinear().domain([0, 45]).range(cfg.xRange);
  const y = d3.scaleLinear().domain([0, 107]).range(cfg.yRange);
  const g = svg.append('g');

  const xAxis = g.append('g')
    .attr('transform', `translate(0,${cfg.yRange[0]})`)
    .call(d3.axisBottom(x).tickValues(xTicks).tickSize(10).tickPadding(14));
  const yAxis = g.append('g')
    .attr('transform', `translate(${cfg.xRange[0]},0)`)
    .call(d3.axisLeft(y).tickValues(yTicks).tickSize(cfg.yTickSize).tickPadding(cfg.yTickPad));

  const styleAxis = (a, color) => {
    a.selectAll('.domain').attr('stroke', color).attr('stroke-width', 1.4);
    a.selectAll('line').attr('stroke', color).attr('stroke-width', 1.2);
    a.selectAll('text').style('font-size', '17px').style('font-family', '"Liberation Sans", Arial, sans-serif').attr('fill', '#222');
  };
  styleAxis(xAxis, cfg.bottom);
  styleAxis(yAxis, cfg.frame);

  // top and right edges of the box
  g.append('line').attr('x1', cfg.xRange[0]).attr('x2', cfg.xRange[1])
    .attr('y1', cfg.yRange[1]).attr('y2', cfg.yRange[1])
    .attr('stroke', cfg.frame).attr('stroke-width', 1.4);
  g.append('line').attr('x1', cfg.xRange[1]).attr('x2', cfg.xRange[1])
    .attr('y1', cfg.yRange[1]).attr('y2', cfg.yRange[0])
    .attr('stroke', cfg.frame).attr('stroke-width', 1.4);

  const dots = (data, color) => g.append('g').selectAll('circle').data(data).enter().append('circle')
    .attr('cx', d => x(d[0]))
    .attr('cy', d => y(d[1]))
    .attr('r', 3.1)
    .attr('fill', color)
    .attr('stroke', '#111')
    .attr('stroke-width', 1);

  dots(cfg.green, '#00f000');
  dots(cfg.red, '#f80000');

  g.append('text').attr('x', cfg.xLabel[0]).attr('y', cfg.xLabel[1]).attr('text-anchor', 'middle').style('font-size', '24px').text('X');
  g.append('text').attr('transform', `translate(${cfg.yLabel[0]},${cfg.yLabel[1]}) rotate(-90)`).attr('text-anchor', 'middle').style('font-size', '25px').text('Y');
  g.append('text').attr('x', cfg.tag[0]).attr('y', cfg.tag[1]).attr('text-anchor', 'middle').style('font-size', '44px').text(cfg.letter);
}

panel({ xRange: [75, 399], yRange: [792.7, 2], red: aRed, green: aGreen, xLabel: [267, 848.5], yLabel: [28, 384], tag: [379, 54], letter: 'a', frame: '#555', bottom: '#555', yTickSize: 10, yTickPad: 3 });
panel({ xRange: [566.7, 890.7], yRange: [797, 2.3], red: bRed, green: bGreen, xLabel: [753, 848.5], yLabel: [531, 388], tag: [873, 46], letter: 'b', frame: '#111', bottom: '#666', yTickSize: 4, yTickPad: 9 });
</script>
</body>
</html>
